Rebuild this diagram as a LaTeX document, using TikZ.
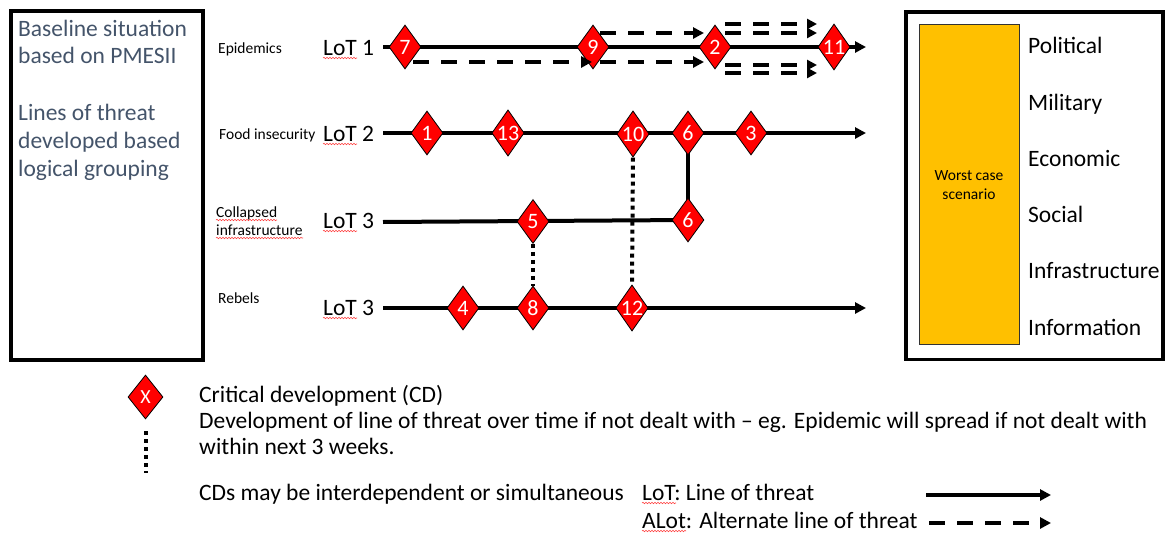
\documentclass[tikz,border=0pt]{standalone}
\usepackage{fontspec}
\setmainfont{Carlito}
\usetikzlibrary{shapes.geometric,arrows.meta,backgrounds,calc,decorations.pathmorphing}
\definecolor{slate}{HTML}{44546A}
\definecolor{gold}{HTML}{FFC000}
\definecolor{cdred}{HTML}{FF0000}
\begin{document}
\begin{tikzpicture}[x=1pt,y=-1pt,
  cd/.style={shape=diamond, draw=black, line width=0.8pt, fill=cdred, text=white,
    inner sep=0pt, aspect=0.7, minimum width=32pt, minimum height=44pt,
    font=\fontsize{22}{22}\selectfont},
  big/.style={inner sep=0pt, anchor=base west, font=\fontsize{23.5}{27}\selectfont},
  small/.style={inner sep=0pt, anchor=base west, font=\fontsize{15.5}{19}\selectfont},
  lotline/.style={line width=4pt},
  lotarrow/.style={line width=4pt, -{Triangle[length=11pt,width=11pt]}},
  altarrow/.style={line width=4pt, dash pattern=on 16pt off 12pt, -{Triangle[length=11pt,width=11pt]}},
  dblarrow/.style={line width=3.2pt, dash pattern=on 16pt off 12pt, -{Triangle[length=10pt,width=10pt]}},
  dotline/.style={line width=4pt, dash pattern=on 4pt off 4pt},
  squig/.style={draw=red!75, line width=0.6pt, decorate,
    decoration={snake, amplitude=0.7pt, segment length=3pt}},
  frame/.style={draw=black, line width=4pt}
]
\useasboundingbox (0,0) rectangle (1168,533);

% ---- left box
\node[frame, anchor=north west, minimum width=191.5pt, minimum height=348.5pt, inner sep=0pt] (basebox) at (9,9) {};
\begin{scope}[every node/.style={big, text=slate}]
\node (b1) at (18,36) {Baseline situation};
\node (b2) at (18,63.5) {based on PMESII};
\node (b3) at (18,120) {Lines of threat};
\node (b4) at (18,148) {developed based};
\node (b5) at (18,176) {logical grouping};
\end{scope}

% ---- right box
\node[draw=black, line width=3.5pt, anchor=north west, minimum width=257pt, minimum height=347.5pt, inner sep=0pt] (pmesii) at (904,10) {};
\node[draw=black!80, line width=0.8pt, fill=gold, anchor=north west, minimum width=100pt, minimum height=320pt, inner sep=0pt] (worst) at (919,24) {};
\node[small, anchor=base] (w1) at (969,180) {Worst case};
\node[small, anchor=base] (w2) at (969,199) {scenario};
\node[big] (p1) at (1028,53) {Political};
\node[big] (p2) at (1028,110) {Military};
\node[big] (p3) at (1028,166) {Economic};
\node[big] (p4) at (1028,222) {Social};
\node[big] (p5) at (1028,278) {Infrastructure};
\node[big] (p6) at (1028,335) {Information};

% ---- row labels
\node[small] (t1) at (218,53) {Epidemics};
\node[small] (t2) at (219,139) {Food insecurity};
\node[small] (t3a) at (216,217) {Collapsed};
\node[small] (t3b) at (216,235) {infrastructure};
\node[small] (t4) at (218,303) {Rebels};
\node[big] (l1) at (323,55) {LoT 1};
\node[big] (l2) at (323,141) {LoT 2};
\node[big] (l3) at (323,228) {LoT 3};
\node[big] (l4) at (323,315) {LoT 3};

% ---- line ends
\coordinate (s1) at (383,47);  \coordinate (e1) at (866,47);
\coordinate (s2) at (383,133); \coordinate (e2) at (866,133);
\coordinate (s3) at (383,222);
\coordinate (s4) at (383,308); \coordinate (e4) at (866,308);

% ---- critical developments
\node[cd] (d7)  at (405,47) {7};
\node[cd] (d9)  at (593,47) {9};
\node[cd] (d2)  at (715,47) {2};
\node[cd] (d11) at (834,47) {11};
\node[cd] (d1)  at (427,133) {1};
\node[cd] (d13) at (508,133) {13};
\node[cd] (d10) at (633,134) {10};
\node[cd] (d6)  at (688,133) {6};
\node[cd] (d3)  at (751,133) {3};
\node[cd] (d5)  at (533,221.5) {5};
\node[cd] (d6b) at (688,220) {6};
\node[cd] (d4)  at (463,308) {4};
\node[cd] (d8)  at (533,308) {8};
\node[cd] (d12) at (632,308) {12};

% ---- alternate line ends
\coordinate (u1) at (817,24); \coordinate (u2) at (817,33);
\coordinate (v1) at (817,65); \coordinate (v2) at (817,73);

\begin{scope}[on background layer]
\draw[lotarrow] (s1) -- (e1);
\draw[lotarrow] (s2) -- (e2);
\draw[lotline] (s3) -- (d6b.center);
\draw[lotarrow] (s4) -- (e4);
\draw[lotline] (d6.center) -- (d6b.center);
\end{scope}

\draw[altarrow] ($(d7.center)+(8,15)$) -- ($(d9.center)+(-1,15)$);
\draw[altarrow] ($(d9.center)+(7,-14)$) -- ($(d2.center)+(-11,-14)$);
\draw[altarrow] ($(d9.center)+(7,15)$) -- ($(d2.center)+(-11,15)$);
\draw[dblarrow] ($(d2.center)+(10,-23)$) -- (u1);
\draw[dblarrow] ($(d2.center)+(10,-14)$) -- (u2);
\draw[dblarrow] ($(d2.center)+(10,18)$) -- (v1);
\draw[dblarrow] ($(d2.center)+(10,26)$) -- (v2);

\draw[dotline] (d10.south) -- (d12.north);
\draw[dotline] (d5.south) -- (d8.north);

% ---- spelling squiggles
\draw[squig] ($(l1.base west)+(0,3)$) -- ++(34,0);
\draw[squig] ($(l2.base west)+(0,3)$) -- ++(34,0);
\draw[squig] ($(l3.base west)+(0,3)$) -- ++(34,0);
\draw[squig] ($(l4.base west)+(0,3)$) -- ++(34,0);
\draw[squig] ($(t3a.base west)+(0,3)$) -- ++(61,0);
\draw[squig] ($(t3b.base west)+(0,3)$) -- ++(87,0);

% ---- legend
\node[cd, minimum width=35pt, minimum height=44pt, font=\fontsize{20}{20}\selectfont] (dX) at (145.5,397) {X};
\coordinate (k1) at (145.5,431); \coordinate (k2) at (145.5,473);
\draw[dotline] (k1) -- (k2);
\node[big] (g1) at (199,402) {Critical development (CD)};
\node[big] (g2) at (199,428) {Development of line of threat over time if not dealt with -- eg. Epidemic will spread if not dealt with};
\node[big] (g3) at (199,454) {within next 3 weeks.};
\node[big] (g4) at (199,500) {CDs may be interdependent or simultaneous};
\node[big] (g5) at (642,500) {LoT: Line of threat};
\node[big] (g6) at (642,528) {ALot: Alternate line of threat};
\draw[squig] ($(g5.base west)+(0,3)$) -- ++(34,0);
\draw[squig] ($(g6.base west)+(0,3)$) -- ++(44,0);
\coordinate (m1) at (926,495); \coordinate (m2) at (1051,495);
\coordinate (n1) at (929,523); \coordinate (n2) at (1051,523);
\draw[lotarrow] (m1) -- (m2);
\draw[altarrow] (n1) -- (n2);
\end{tikzpicture}
\end{document}
